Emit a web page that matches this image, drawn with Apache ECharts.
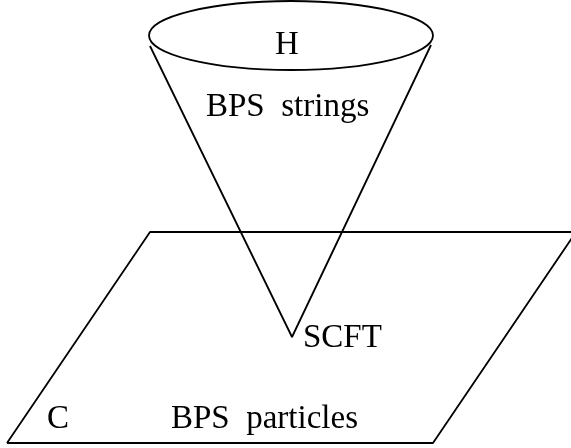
<!DOCTYPE html>
<html>
<head>
<meta charset="utf-8">
<script src="https://cdn.jsdelivr.net/npm/echarts@6/dist/echarts.min.js"></script>
<style>
  html, body { margin: 0; padding: 0; background: #fff; }
  #main { width: 571px; height: 448px; }
</style>
</head>
<body>
<div id="main"></div>
<script>
// diagram units: x to the right, y downward (0..571, 0..448)
var planeX = [7, 150, 576, 433, 7];
var planeY = [443, 232, 232, 443, 443];

var coneX = [150, 292, 431];
var coneY = [46, 337, 45];

// mouth of the cone: centre x, centre y, radius x, radius y
var mouth = [[291, 35.5, 142, 34.5]];

var labelText = ['H', 'BPS  strings', 'SCFT', 'C', 'BPS  particles'];
var labelX = [287, 206, 303, 47, 171];
var labelY = [53, 115, 346, 427, 427];
var labelAlign = ['center', 'left', 'left', 'left', 'left'];

function zip(xs, ys) {
    var arr = [];
    for (var i = 0; i < xs.length; i++) {
        arr.push([xs[i], ys[i]]);
    }
    return arr;
}

var chart = echarts.init(document.getElementById('main'));

var lineStyle = { color: '#000', width: 1.8 };

var option = {
    animation: false,
    backgroundColor: '#fff',
    grid: { left: 0, right: 0, top: 0, bottom: 0 },
    xAxis: { type: 'value', min: 0, max: 571, show: false },
    yAxis: { type: 'value', min: 0, max: 448, inverse: true, show: false },
    series: [
        {
            name: 'plane',
            type: 'line',
            data: zip(planeX, planeY),
            symbol: 'none',
            silent: true,
            lineStyle: lineStyle
        },
        {
            name: 'cone',
            type: 'line',
            data: zip(coneX, coneY),
            symbol: 'none',
            silent: true,
            lineStyle: lineStyle
        },
        {
            name: 'mouth',
            type: 'custom',
            silent: true,
            data: mouth,
            renderItem: function (params, api) {
                var c = api.coord([api.value(0), api.value(1)]);
                var s = api.size([api.value(2), api.value(3)]);
                return {
                    type: 'ellipse',
                    shape: { cx: c[0], cy: c[1], rx: s[0], ry: s[1] },
                    style: { fill: 'none', stroke: '#000', lineWidth: 1.8 }
                };
            }
        },
        {
            name: 'labels',
            type: 'custom',
            silent: true,
            data: labelText.map(function (t, i) { return [labelX[i], labelY[i], i]; }),
            renderItem: function (params, api) {
                var i = api.value(2);
                var p = api.coord([api.value(0), api.value(1)]);
                return {
                    type: 'text',
                    x: p[0],
                    y: p[1] - 8,
                    style: {
                        text: labelText[i],
                        font: '33px "Liberation Serif", "Times New Roman", serif',
                        fill: '#000',
                        align: labelAlign[i],
                        verticalAlign: 'middle'
                    }
                };
            }
        }
    ]
};

chart.setOption(option);
</script>
</body>
</html>
